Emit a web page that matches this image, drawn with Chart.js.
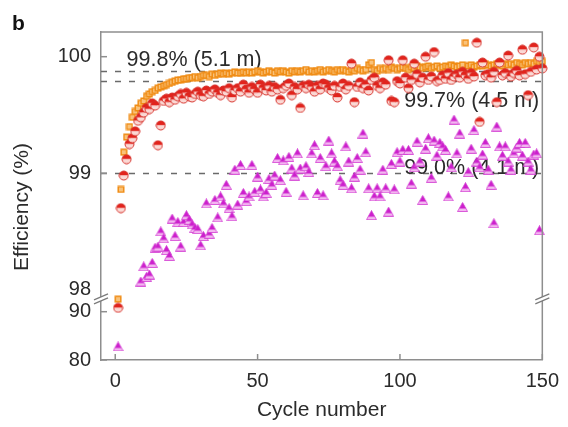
<!DOCTYPE html>
<html>
<head>
<meta charset="utf-8">
<script src="https://cdn.jsdelivr.net/npm/chart.js@4.4.1/dist/chart.umd.min.js"></script>
<style>
html,body{margin:0;padding:0;background:#fff;}
canvas{display:block;}
</style>
</head>
<body>
<canvas id="c" width="568" height="427"></canvas>
<script>
// ---------------- DATA ----------------
// Coulombic efficiency (%) per cycle (cycle number = index + 1)
const orangeSquares = [
92.6,98.86,99.18,99.31,99.40,99.48,99.53,99.56,99.60,99.62,
99.66,99.68,99.70,99.71,99.73,99.74,99.75,99.76,99.77,99.78,
99.79,99.80,99.80,99.81,99.81,99.82,99.82,99.83,99.82,99.83,
99.84,99.84,99.83,99.85,99.84,99.85,99.86,99.85,99.86,99.85,
99.86,99.87,99.86,99.86,99.87,99.86,99.87,99.86,99.87,99.88,
99.87,99.86,99.87,99.88,99.87,99.86,99.88,99.87,99.88,99.87,
99.86,99.88,99.87,99.88,99.87,99.88,99.89,99.87,99.88,99.87,
99.88,99.89,99.87,99.88,99.89,99.88,99.87,99.89,99.88,99.89,
99.88,99.87,99.89,99.88,99.90,99.89,99.88,99.89,99.93,99.95,
99.89,99.88,99.90,99.89,99.90,99.89,99.91,99.90,99.89,99.90,
99.91,99.90,99.89,99.91,99.90,99.92,99.91,99.90,99.91,99.92,
99.90,99.91,99.92,99.90,99.91,99.92,99.91,99.93,99.92,99.91,
99.92,99.93,100.12,99.92,99.93,99.91,99.92,99.93,99.92,99.94,
99.93,99.92,99.93,99.94,99.93,99.92,99.94,99.93,99.94,99.93,
99.95,99.94,99.93,99.95,99.94,99.95,99.94,99.96,99.95,99.96
];
const redCircles = [
90.8,98.70,98.98,99.12,99.25,99.30,99.36,99.45,99.48,99.52,
99.56,99.55,99.60,99.58,99.24,99.41,99.62,99.64,99.61,99.65,
99.63,99.66,99.68,99.64,99.69,99.66,99.65,99.68,99.70,99.67,
99.66,99.71,99.68,99.70,99.72,99.69,99.67,99.71,99.70,99.73,
99.65,99.71,99.73,99.70,99.76,99.72,99.69,99.74,99.72,99.69,
99.76,99.73,99.71,99.75,99.70,99.74,99.72,99.63,99.73,99.75,
99.77,99.67,99.74,99.72,99.56,99.75,99.73,99.76,99.74,99.70,
99.75,99.72,99.77,99.76,99.73,99.71,99.75,99.65,99.74,99.77,
99.72,99.75,99.94,99.61,99.74,99.78,99.73,99.76,99.71,99.80,
99.82,99.75,99.73,99.78,99.76,99.97,99.62,99.61,99.79,99.77,
99.97,99.82,99.73,99.80,99.94,99.85,99.78,99.82,100.00,99.80,
99.83,100.04,99.79,99.80,99.84,99.81,99.86,99.80,99.83,99.85,
99.82,99.87,99.84,99.81,99.86,99.83,100.12,99.44,99.95,99.84,
99.85,99.82,99.87,99.61,99.95,99.84,99.86,100.01,99.83,99.86,
99.88,99.84,100.06,99.85,99.67,99.87,100.08,99.89,100.00,99.90
];
const magentaTriangles = [
82.8,null,null,null,null,null,null,null,98.07,98.20,
98.11,98.13,98.23,98.36,98.37,98.50,98.44,98.34,98.29,98.61,
98.46,98.58,98.37,98.58,98.64,98.60,98.56,98.53,98.52,98.38,
98.46,98.74,98.48,98.53,98.77,98.62,98.80,98.74,98.90,98.70,
98.63,99.03,98.73,99.07,98.83,98.76,98.80,99.07,98.84,98.97,
98.86,98.80,98.83,98.95,98.90,98.98,99.13,98.94,99.11,98.84,
99.14,99.04,98.98,99.17,99.04,98.81,99.06,99.01,99.17,99.24,
98.83,99.13,98.81,99.06,99.28,99.17,99.10,99.06,98.94,98.90,
99.23,99.10,98.87,98.97,99.13,99.03,99.34,99.18,98.87,98.64,
98.80,98.87,98.80,99.03,98.87,98.67,99.08,98.86,99.18,99.10,
99.20,null,99.20,98.91,99.05,99.27,99.10,98.77,99.21,99.30,
98.96,99.28,99.15,99.26,99.23,99.20,98.80,99.05,99.46,99.17,
99.34,98.71,98.88,99.01,99.21,99.37,99.10,99.05,99.16,99.26,
99.03,98.90,98.57,99.40,99.23,99.15,99.23,99.10,99.03,99.17,
99.22,99.26,99.15,99.26,99.10,99.03,99.16,99.17,98.51,null
];
const xTickValues = [0, 50, 100, 150];
const yTickValues = [80, 90, 98, 99, 100];
const refLineValues = [99.88, 99.79, 99.0];
const refLineLabels = ['99.8% (5.1 m)', '99.7% (4.5 m)', '99.0% (4.1 m)'];

// ---------------- broken-axis mapping ----------------
const UPPER_MIN = 98;          // upper segment 98..100.2 shown 1:1
const LOWER_TOP_T = 97.811;    // position of 90 on the transformed axis
const LOWER_SCALE = 0.04146;   // compression of the 80..90 segment
function tf(v){ return v >= UPPER_MIN ? v : LOWER_TOP_T + (v - 90) * LOWER_SCALE; }
function itf(t){ return t >= 97.95 ? t : 90 + (t - LOWER_TOP_T) / LOWER_SCALE; }

function toPoints(arr){
  const pts = [];
  arr.forEach((v, i) => { if (v !== null) pts.push({x: i + 1, y: tf(v)}); });
  return pts;
}

// ---------------- marker images ----------------
function circleImg(){
  const c = document.createElement('canvas'); c.width = 11; c.height = 11;
  const g = c.getContext('2d');
  g.beginPath(); g.arc(5.5,5.5,4.5,Math.PI,0); g.closePath(); g.fillStyle = '#e2231c'; g.fill();
  g.beginPath(); g.arc(5.5,5.5,4.5,0,Math.PI); g.closePath(); g.fillStyle = '#fbd9d5'; g.fill();
  g.beginPath(); g.arc(5.5,5.5,4.5,0,Math.PI*2); g.strokeStyle = '#d6302a'; g.lineWidth = 1; g.stroke();
  return c;
}
function squareImg(){
  const c = document.createElement('canvas'); c.width = 8; c.height = 8;
  const g = c.getContext('2d');
  g.fillStyle = '#f08c14'; g.fillRect(0.5,0.5,7,7);
  g.fillStyle = '#f9c27a'; g.fillRect(2,2,4,4);
  return c;
}
function triImg(){
  const c = document.createElement('canvas'); c.width = 11; c.height = 10;
  const g = c.getContext('2d');
  g.beginPath(); g.moveTo(5.5,0.5); g.lineTo(10.5,9.5); g.lineTo(0.5,9.5); g.closePath();
  g.fillStyle = '#f3b6f0'; g.fill();
  g.save(); g.clip();
  g.fillStyle = '#cc1fcc'; g.fillRect(0,0,11,6.5);
  g.restore();
  g.strokeStyle = '#d23ad2'; g.lineWidth = 0.8; g.stroke();
  return c;
}

const AXIS_COLOR = '#8e8e8e';
const TEXT_COLOR = '#2b2b2b';
const FONT = '"Liberation Sans", Arial, Helvetica, sans-serif';

// ---------------- decorations plugin ----------------
const decor = {
  id: 'decor',
  beforeDatasetsDraw(chart){
    const {ctx, chartArea: a, scales: {x, y}} = chart;
    ctx.save();
    // reference dashed lines
    ctx.strokeStyle = '#6a6a6a'; ctx.lineWidth = 1.5; ctx.setLineDash([6, 8]);
    refLineValues.forEach(v => {
      const py = Math.round(y.getPixelForValue(tf(v))) + 0.5;
      ctx.beginPath(); ctx.moveTo(a.left, py); ctx.lineTo(a.right + 2, py); ctx.stroke();
    });
    ctx.setLineDash([]);
    // labels
    ctx.fillStyle = TEXT_COLOR; ctx.font = '21.5px ' + FONT; ctx.textBaseline = 'middle'; ctx.textAlign = 'left';
    const labelPos = [[4, 99.97], [101.5, 99.62], [101.5, 99.04]];
    refLineLabels.forEach((t, i) => {
      ctx.fillText(t, x.getPixelForValue(labelPos[i][0]), y.getPixelForValue(labelPos[i][1]));
    });
    ctx.restore();
  },
  afterDraw(chart){
    const {ctx, chartArea: a, scales: {x, y}} = chart;
    ctx.save();
    ctx.strokeStyle = AXIS_COLOR; ctx.lineWidth = 1.5;
    // top and right frame
    ctx.beginPath(); ctx.moveTo(a.left, a.top); ctx.lineTo(a.right, a.top); ctx.lineTo(a.right, a.bottom); ctx.stroke();
    // inward ticks
    xTickValues.forEach(v => {
      const px = x.getPixelForValue(v);
      ctx.beginPath(); ctx.moveTo(px, a.bottom); ctx.lineTo(px, a.bottom - 6); ctx.stroke();
    });
    [80, 90, 99, 100].forEach(v => {
      const py = y.getPixelForValue(tf(v));
      ctx.beginPath(); ctx.moveTo(a.left, py); ctx.lineTo(a.left + 6, py); ctx.stroke();
    });
    // axis break marks
    const by = y.getPixelForValue(97.93);
    [a.left, a.right].forEach(bx => {
      ctx.fillStyle = '#fff';
      ctx.beginPath();
      ctx.moveTo(bx - 7, by + 2); ctx.lineTo(bx + 7, by - 4); ctx.lineTo(bx + 7, by + 0); ctx.lineTo(bx - 7, by + 6); ctx.closePath();
      ctx.fill();
      ctx.strokeStyle = '#7a7a7a'; ctx.lineWidth = 1.2;
      ctx.beginPath(); ctx.moveTo(bx - 7, by + 2); ctx.lineTo(bx + 7, by - 4); ctx.stroke();
      ctx.beginPath(); ctx.moveTo(bx - 7, by + 6); ctx.lineTo(bx + 7, by + 0); ctx.stroke();
    });
    // y-axis title (drawn to match the reference's vertical placement)
    ctx.fillStyle = TEXT_COLOR; ctx.font = '21px ' + FONT; ctx.textAlign = 'center'; ctx.textBaseline = 'middle';
    ctx.translate(22, 207); ctx.rotate(-Math.PI / 2);
    ctx.fillText('Efficiency (%)', 0, 0);
    ctx.setTransform(1, 0, 0, 1, 0, 0);
    // panel letter
    ctx.fillStyle = '#111'; ctx.font = 'bold 21px ' + FONT; ctx.textBaseline = 'alphabetic'; ctx.textAlign = 'left';
    ctx.fillText('b', 12, 30);
    ctx.restore();
  }
};

new Chart(document.getElementById('c'), {
  type: 'scatter',
  data: {
    datasets: [
      { label: '99.8%', data: toPoints(orangeSquares), pointStyle: squareImg(), order: 3, clip: false },
      { label: '99.7%', data: toPoints(redCircles), pointStyle: circleImg(), order: 2, clip: false },
      { label: '99.0%', data: toPoints(magentaTriangles), pointStyle: triImg(), order: 1, clip: false }
    ]
  },
  options: {
    responsive: false,
    animation: false,
    layout: { padding: { top: 32, right: 21, left: 0, bottom: 0 } },
    plugins: { legend: { display: false }, tooltip: { enabled: false } },
    scales: {
      x: {
        type: 'linear', min: -5, max: 150,
        afterBuildTicks: s => { s.ticks = xTickValues.map(v => ({value: v})); },
        afterFit: s => { s.height = 67; },
        grid: { display: false, drawTicks: false },
        border: { display: true, color: AXIS_COLOR, width: 1.5 },
        ticks: { color: TEXT_COLOR, font: { family: FONT, size: 20 }, padding: 9, maxRotation: 0 },
        title: { display: true, text: 'Cycle number', color: TEXT_COLOR, font: { family: FONT, size: 21 }, padding: { top: 4, bottom: 4 } }
      },
      y: {
        type: 'linear', min: tf(80), max: 100.212,
        afterBuildTicks: s => { s.ticks = yTickValues.map(v => ({value: tf(v)})); },
        afterFit: s => { s.width = 101; },
        grid: { display: false, drawTicks: false },
        border: { display: true, color: AXIS_COLOR, width: 1.5 },
        ticks: { color: TEXT_COLOR, font: { family: FONT, size: 20 }, padding: 10,
          callback: v => String(Math.round(itf(v))) },
        title: { display: false }
      }
    }
  },
  plugins: [decor]
});
</script>
</body>
</html>
